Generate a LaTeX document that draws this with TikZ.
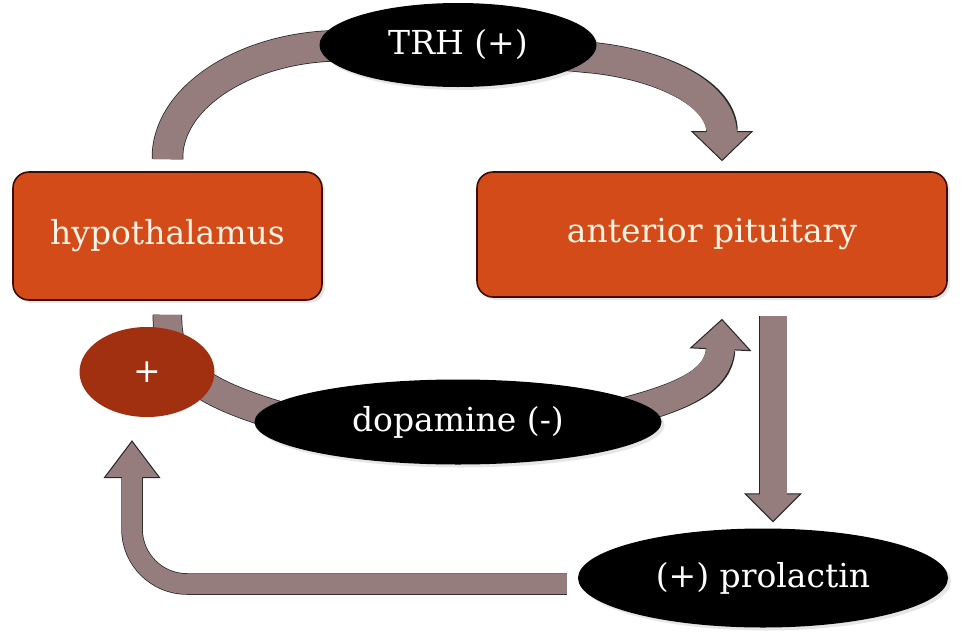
\documentclass[tikz,border=0pt]{standalone}
\usepackage{fontspec}
\setmainfont{DejaVu Serif}
\usepackage{tikz}
\usetikzlibrary{calc,arrows.meta,positioning,shapes.geometric,shadows,backgrounds}

\definecolor{boxfill}{HTML}{D24B19}
\definecolor{boxedge}{HTML}{3C0D05}
\definecolor{cream}{HTML}{FFF4E4}
\definecolor{mauve}{HTML}{957D7D}
\definecolor{plusfill}{HTML}{A0300F}
\newcommand{\lblfont}{\fontsize{33}{38}\selectfont}

\tikzset{
  box/.style={rectangle, rounded corners=16pt, draw=boxedge, line width=1.6pt,
    fill=boxfill, text=cream, font=\lblfont,
    drop shadow={opacity=0.2, shadow xshift=3pt, shadow yshift=-3pt}},
  oval/.style={ellipse, fill=black, text=white, font=\lblfont, inner sep=0pt,
    drop shadow={opacity=0.2, shadow xshift=3pt, shadow yshift=-3pt}},
  bandedge/.style={draw=black!85, line width=#1},
  bandfill/.style={draw=mauve, line width=#1},
}

\begin{document}
\begin{tikzpicture}[x=1pt,y=-1pt]
  \useasboundingbox (0,0) rectangle (961,635);

  % boxes and hormones
  \node[box, minimum width=309pt, minimum height=128pt] (hypo) at (167.5,236) {hypothalamus};
  \node[box, minimum width=470pt, minimum height=125pt] (pit) at (712,234.5) {anterior pituitary};
  \node[oval, minimum width=277pt, minimum height=84pt] (trh) at (458,45) {TRH (+)};
  \node[oval, minimum width=407pt, minimum height=85pt] (dop) at (458,422) {dopamine (-)};
  \node[oval, minimum width=370pt, minimum height=99pt] (prol) at (763,578) {(+) prolactin};
  \node[ellipse, fill=plusfill, text=white, font=\lblfont, inner sep=0pt,
    minimum width=135pt, minimum height=90pt] (plus) at (147,372) {+};

  % end points of the bands
  \coordinate (trhA) at ($(hypo.north)+(0,-12)$);
  \coordinate (trhB) at ($(pit.north)+(10,-10)$);
  \coordinate (dopA) at ($(hypo.south)+(0,14)$);
  \coordinate (dopB) at ($(dop.west)+(25,-6)$);
  \coordinate (pitA) at ($(dop.east)+(-45,-8)$);
  \coordinate (pitB) at ($(pit.south)+(10,21)$);
  \coordinate (prlA) at ($(pit.south)+(61,18)$);
  \coordinate (prlB) at ($(prol.north)+(10,-6)$);
  \coordinate (retA) at ($(prol.west)+(-11,6)$);
  \coordinate (retB) at ($(plus.south)+(-15,23)$);

  \begin{pgfonlayer}{background}
    % TRH arc
    \draw[bandedge=31.5pt, -{Triangle[width=62pt,length=30pt,line width=1pt,fill=mauve]}]
      (trhA) .. controls (166,100) and (240,50) .. (330,46) -- (trh.center) -- (595,58)
      .. controls (665,66) and (722,95) .. (trhB);
    \draw[bandfill=30pt, shorten >=26pt]
      (trhA) .. controls (166,100) and (240,50) .. (330,46) -- (trh.center) -- (595,58)
      .. controls (665,66) and (722,95) .. (trhB);
    % hypothalamus to dopamine
    \draw[bandedge=29.5pt] (dopA) .. controls (166,370) and (200,392) .. (dopB);
    \draw[bandfill=28pt] (dopA) .. controls (166,370) and (200,392) .. (dopB);
    % dopamine to pituitary
    \draw[bandedge=29.5pt, -{Triangle[width=62pt,length=31pt,line width=1pt,fill=mauve]}]
      (pitA) .. controls (680,398) and (719,382) .. (pitB);
    \draw[bandfill=28pt, shorten >=27pt] (pitA) .. controls (680,398) and (719,382) .. (pitB);
    % pituitary to prolactin
    \draw[bandedge=28.5pt, -{Triangle[width=58pt,length=29pt,line width=1pt,fill=mauve]}] (prlA) -- (prlB);
    \draw[bandfill=27pt, shorten >=25pt] (prlA) -- (prlB);
    % prolactin back
    \draw[bandedge=21.5pt, rounded corners=55pt, -{Triangle[width=57pt,length=38pt,line width=1pt,fill=mauve]}]
      (retA) -| (retB);
    \draw[bandfill=20pt, rounded corners=55pt, shorten >=34pt] (retA) -| (retB);
  \end{pgfonlayer}
\end{tikzpicture}
\end{document}
